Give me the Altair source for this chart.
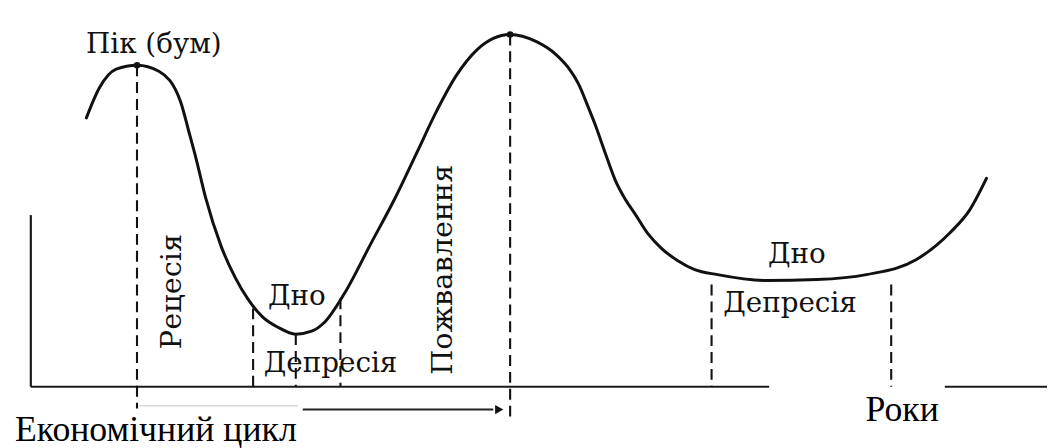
import altair as alt
import pandas as pd

# ---- data (abstract units: t = time, lvl = level of economic activity) ----
curve_t = [5.6, 6.9, 8.6, 10.7, 12.9, 15.1, 15.9, 16.7, 17.6, 19.2, 20.6, 21.9, 23.4, 24.9,
           26.7, 28.3, 29.6, 31.6, 34.2, 36.8, 38.9, 40.9, 42.9, 44.9, 46.6, 48.3, 50.9, 52.9,
           54.2, 55.2, 56.2, 56.8, 57.9, 58.9, 59.9, 60.9, 62.2, 63.6, 65.2, 66.9, 69.2, 74.2,
           79.2, 84.2, 89.2, 92.6, 94.6, 96.3]
curve_lvl = [27.1, 30.1, 32.0, 32.4, 31.8, 28.7, 25.8, 22.8, 19.1, 14.1, 11.0, 8.8, 7.0, 6.0,
             5.3, 5.6, 6.5, 9.4, 14.3, 19.2, 23.6, 27.8, 31.4, 33.9, 35.1, 35.5, 34.8, 33.5,
             32.1, 30.5, 28.1, 26.6, 23.5, 20.8, 18.9, 17.4, 15.4, 13.9, 12.7, 11.8, 11.3, 10.7,
             10.8, 11.3, 12.8, 15.5, 17.8, 21.0]

peak_t = [10.7, 48.3]
peak_lvl = [32.4, 35.5]

guide_t = [10.7, 22.4, 26.7, 31.2, 48.3, 68.6, 86.7]
guide_top = [32.4, 7.9, 5.3, 8.9, 35.5, 10.3, 10.3]
guide_bottom = [-2.2, 0.0, 0.0, 0.0, -3.6, 0.0, 0.0]

axis_t = [0.0, 92.1, 0.0]
axis_t2 = [74.4, 102.4, 0.0]
axis_lvl = [0.0, 0.0, 0.0]
axis_lvl2 = [0.0, 0.0, 17.3]

arrow_t = [27.4]
arrow_t2 = [46.6]
arrow_lvl = [-2.3]
arrow_head_t = [47.2]
faint_t = [10.9]
faint_t2 = [26.9]
faint_lvl = [-1.9]

label_text = ["Пік (бум)", "Дно", "Депресія", "Дно", "Депресія"]
label_t = [12.4, 26.8, 30.2, 77.2, 76.5]
label_lvl = [33.6, 8.2, 1.5, 12.5, 7.5]

vlabel_text = ["Рецесія", "Пожвавлення"]
vlabel_t = [15.1, 42.4]
vlabel_lvl = [9.6, 11.8]

big_text = ["Роки", "Економічний цикл"]
big_t = [87.8, 12.6]
big_lvl = [-3.4, -5.5]

# ---- scales ----
XS = alt.Scale(domain=[-2.3, 102.4], nice=False, zero=False)
YS = alt.Scale(domain=[-6.0, 38.0], nice=False, zero=False)
INK = "#111111"


def X(f="t"):
    return alt.X(f"{f}:Q", scale=XS, axis=None)


def Y(f="lvl"):
    return alt.Y(f"{f}:Q", scale=YS, axis=None)


curve_df = pd.DataFrame({"t": curve_t, "lvl": curve_lvl})
curve = alt.Chart(curve_df).mark_line(
    color=INK, strokeWidth=3, interpolate="monotone", strokeCap="round"
).encode(x=X(), y=Y())

guides_df = pd.DataFrame({"t": guide_t, "lvl": guide_top, "lvl2": guide_bottom})
guides = alt.Chart(guides_df).mark_rule(
    color=INK, strokeWidth=2.1, strokeDash=[11, 6]
).encode(x=X(), y=Y(), y2="lvl2:Q")

axes_df = pd.DataFrame({"t": axis_t, "t2": axis_t2, "lvl": axis_lvl, "lvl2": axis_lvl2})
axes = alt.Chart(axes_df).mark_rule(color="#1a1a1a", strokeWidth=2.2).encode(
    x=X(), x2="t2:Q", y=Y(), y2="lvl2:Q"
)

arrow_df = pd.DataFrame({"t": arrow_t, "t2": arrow_t2, "lvl": arrow_lvl})
arrow = alt.Chart(arrow_df).mark_rule(color="#222222", strokeWidth=2).encode(
    x=X(), x2="t2:Q", y=Y()
)
faint_df = pd.DataFrame({"t": faint_t, "t2": faint_t2, "lvl": faint_lvl})
faint = alt.Chart(faint_df).mark_rule(color="#d8d8d8", strokeWidth=1.5).encode(
    x=X(), x2="t2:Q", y=Y()
)
head_df = pd.DataFrame({"t": arrow_head_t, "lvl": arrow_lvl})
head = alt.Chart(head_df).mark_point(
    shape="triangle-right", filled=True, size=90, color=INK, opacity=1
).encode(x=X(), y=Y())

peaks_df = pd.DataFrame({"t": peak_t, "lvl": peak_lvl})
peaks = alt.Chart(peaks_df).mark_circle(size=45, color=INK, opacity=1).encode(x=X(), y=Y())

labels_df = pd.DataFrame({"t": label_t, "lvl": label_lvl, "txt": label_text})
labels = alt.Chart(labels_df).mark_text(
    font="DejaVu Serif", fontSize=28, align="center", baseline="alphabetic", color=INK
).encode(x=X(), y=Y(), text="txt:N")

vlabels_df = pd.DataFrame({"t": vlabel_t, "lvl": vlabel_lvl, "txt": vlabel_text})
vlabels = alt.Chart(vlabels_df).mark_text(
    font="DejaVu Serif", fontSize=29, align="center", baseline="alphabetic",
    angle=270, color=INK
).encode(x=X(), y=Y(), text="txt:N")

big_df = pd.DataFrame({"t": big_t, "lvl": big_lvl, "txt": big_text})
big = alt.Chart(big_df).mark_text(
    font="Liberation Serif", fontSize=36, align="center", baseline="alphabetic", color="#000000"
).encode(x=X(), y=Y(), text="txt:N")

chart = alt.layer(
    axes, faint, arrow, head, guides, curve, peaks, labels, vlabels, big
).properties(
    width=1047, height=440, autosize=alt.AutoSizeParams(type="none"), padding=0,
    background="white"
).configure_view(stroke=None)

chart.save("out.html", embed_options={"renderer": "svg", "actions": False})
